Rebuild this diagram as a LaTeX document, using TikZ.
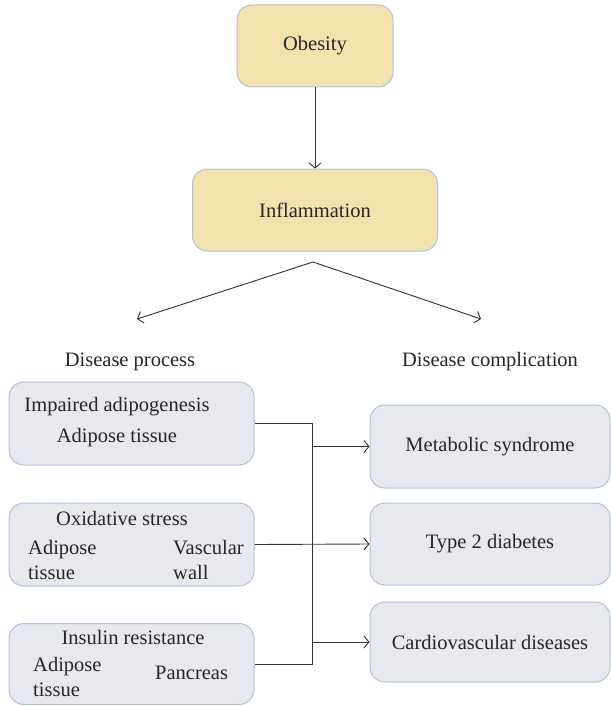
\documentclass[tikz,border=0pt]{standalone}
\usepackage{fontspec}
\setmainfont{Liberation Serif}
\newfontfamily\boxfont{Liberation Serif}
\usepackage{xcolor}
\usepackage{tikz}
\usetikzlibrary{arrows.meta}
\definecolor{boxyellow}{HTML}{F4E2AE}
\definecolor{boxgray}{HTML}{E8E9EE}
\definecolor{boxline}{HTML}{B4C0E0}
\definecolor{arrowgray}{HTML}{333333}

\begin{document}
\begin{tikzpicture}[x=1pt, y=-1pt,
    every node/.style={font=\boxfont\fontsize{20.5}{25}\selectfont, text=black!85},
    box/.style={draw=boxline, line width=1pt, rounded corners=15pt, inner sep=0pt},
    ybox/.style={box, fill=boxyellow},
    gbox/.style={box, fill=boxgray},
    txt/.style={inner sep=0pt, align=left},
    line/.style={draw=arrowgray, line width=0.9pt},
    arr/.style={line, -{Straight Barb[length=5pt, width=12pt]}}]
			\useasboundingbox (0,0) rectangle (611,706);
			% Nodes
			\node[ybox, minimum width=156pt, minimum height=82pt] (1) at (315,46) {Obesity};
			\node[ybox, minimum width=245pt, minimum height=82pt] (2) at (315,210) {Inflammation};
			\node[txt] (p) at (130,362) {Disease process};
			\node[txt] (c) at (490,362) {Disease complication};
			\node[gbox, minimum width=245pt, minimum height=83pt] (3) at (131.5,423.5) {};
			\node[gbox, minimum width=245pt, minimum height=83pt] (4) at (131.5,544.5) {};
			\node[gbox, minimum width=245pt, minimum height=81pt] (5) at (131.5,664) {};
			\node[gbox, minimum width=240pt, minimum height=83pt] (6) at (490,446.5) {Metabolic syndrome};
			\node[gbox, minimum width=240pt, minimum height=82pt] (7) at (490,544) {Type 2 diabetes};
			\node[gbox, minimum width=240pt, minimum height=80pt] (8) at (490,642) {Cardiovascular diseases};
			% Texts in the left boxes
			\node[txt] (3a) at (117,407) {Impaired adipogenesis};
			\node[txt] (3b) at (117,438) {Adipose tissue};
			\node[txt] (4a) at (122,518) {Oxidative stress};
			\node[txt, anchor=west] (4b) at (28,559.5) {Adipose\\tissue};
			\node[txt, anchor=west] (4c) at (173,559.5) {Vascular\\wall};
			\node[txt] (5a) at (133,637) {Insulin resistance};
			\node[txt, anchor=west] (5b) at (33,676.5) {Adipose\\tissue};
			\node[txt, anchor=west] (5c) at (155,673) {Pancreas};
			% Coordinates
			\coordinate (s) at (313,262);
			\coordinate (l) at (137,319);
			\coordinate (r) at (481,319);
			\coordinate (top) at (312,423.5);
			\coordinate (bot) at (312,664);
			% Edges
			\draw[arr] (1) -- (2);
			\draw[arr] (s) -- (l);
			\draw[arr] (s) -- (r);
			\draw[line] (3.east) -- (top) -- (bot) -- (5.east);
			\draw[arr] (4.east) -- (7.west);
			\draw[arr] (6.west -| top) -- (6.west);
			\draw[arr] (8.west -| top) -- (8.west);
		\end{tikzpicture}
\end{document}
